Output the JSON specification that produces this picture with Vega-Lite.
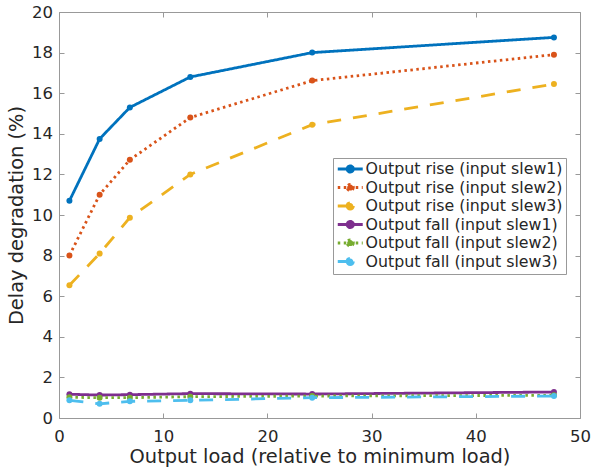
{
  "$schema": "https://vega.github.io/schema/vega-lite/v6.json",
  "width": 521,
  "height": 406,
  "autosize": {"type": "none"},
  "padding": {"left": 59, "top": 12, "right": 12, "bottom": 52},
  "background": "white",
  "config": {
    "font": "DejaVu Sans",
    "view": {"stroke": "#999999", "strokeWidth": 1},
    "axis": {
      "grid": false,
      "domain": false,
      "labelFlush": false,
      "tickColor": "#999999",
      "tickSize": -5,
      "labelColor": "#262626",
      "labelFontSize": 16.5,
      "labelFont": "DejaVu Sans",
      "titleFont": "DejaVu Sans",
      "titleFontSize": 19.4,
      "titleColor": "#262626",
      "titleFontWeight": "normal"
    }
  },
  "data": {
    "values": [
      {"load": 1, "deg": 10.7, "series": "Output rise (input slew1)"},
      {"load": 3.9, "deg": 13.75, "series": "Output rise (input slew1)"},
      {"load": 6.8, "deg": 15.3, "series": "Output rise (input slew1)"},
      {"load": 12.6, "deg": 16.8, "series": "Output rise (input slew1)"},
      {"load": 24.3, "deg": 18.0, "series": "Output rise (input slew1)"},
      {"load": 47.5, "deg": 18.75, "series": "Output rise (input slew1)"},
      {"load": 1, "deg": 8.0, "series": "Output rise (input slew2)"},
      {"load": 3.9, "deg": 11.0, "series": "Output rise (input slew2)"},
      {"load": 6.8, "deg": 12.72, "series": "Output rise (input slew2)"},
      {"load": 12.6, "deg": 14.8, "series": "Output rise (input slew2)"},
      {"load": 24.3, "deg": 16.62, "series": "Output rise (input slew2)"},
      {"load": 47.5, "deg": 17.9, "series": "Output rise (input slew2)"},
      {"load": 1, "deg": 6.54, "series": "Output rise (input slew3)"},
      {"load": 3.9, "deg": 8.1, "series": "Output rise (input slew3)"},
      {"load": 6.8, "deg": 9.87, "series": "Output rise (input slew3)"},
      {"load": 12.6, "deg": 12.0, "series": "Output rise (input slew3)"},
      {"load": 24.3, "deg": 14.45, "series": "Output rise (input slew3)"},
      {"load": 47.5, "deg": 16.45, "series": "Output rise (input slew3)"},
      {"load": 1, "deg": 1.17, "series": "Output fall (input slew1)"},
      {"load": 3.9, "deg": 1.13, "series": "Output fall (input slew1)"},
      {"load": 6.8, "deg": 1.15, "series": "Output fall (input slew1)"},
      {"load": 12.6, "deg": 1.2, "series": "Output fall (input slew1)"},
      {"load": 24.3, "deg": 1.18, "series": "Output fall (input slew1)"},
      {"load": 47.5, "deg": 1.28, "series": "Output fall (input slew1)"},
      {"load": 1, "deg": 1.02, "series": "Output fall (input slew2)"},
      {"load": 3.9, "deg": 1.0, "series": "Output fall (input slew2)"},
      {"load": 6.8, "deg": 1.0, "series": "Output fall (input slew2)"},
      {"load": 12.6, "deg": 1.05, "series": "Output fall (input slew2)"},
      {"load": 24.3, "deg": 1.08, "series": "Output fall (input slew2)"},
      {"load": 47.5, "deg": 1.12, "series": "Output fall (input slew2)"},
      {"load": 1, "deg": 0.87, "series": "Output fall (input slew3)"},
      {"load": 3.9, "deg": 0.7, "series": "Output fall (input slew3)"},
      {"load": 6.8, "deg": 0.82, "series": "Output fall (input slew3)"},
      {"load": 12.6, "deg": 0.87, "series": "Output fall (input slew3)"},
      {"load": 24.3, "deg": 1.0, "series": "Output fall (input slew3)"},
      {"load": 47.5, "deg": 1.08, "series": "Output fall (input slew3)"}
    ]
  },
  "layer": [
    {
      "mark": {"type": "line", "strokeWidth": 2.8},
      "encoding": {
        "x": {
          "field": "load", "type": "quantitative",
          "scale": {"domain": [0, 50], "nice": false, "zero": false, "padding": 0},
          "axis": {"values": [0, 10, 20, 30, 40, 50], "title": "Output load (relative to minimum load)", "labelPadding": 15, "titlePadding": 3}
        },
        "y": {
          "field": "deg", "type": "quantitative",
          "scale": {"domain": [0, 20], "nice": false, "zero": false, "padding": 0},
          "axis": {"values": [0, 2, 4, 6, 8, 10, 12, 14, 16, 18, 20], "title": "Delay degradation (%)", "labelPadding": 11.5, "titlePadding": 5}
        },
        "color": {
          "field": "series", "type": "nominal",
          "scale": {
            "domain": ["Output rise (input slew1)", "Output rise (input slew2)", "Output rise (input slew3)", "Output fall (input slew1)", "Output fall (input slew2)", "Output fall (input slew3)"],
            "range": ["#0072BD", "#D95319", "#EDB120", "#7E2F8E", "#77AC30", "#4DBEEE"]
          },
          "legend": {
            "title": null,
            "orient": "none",
            "legendX": 274,
            "legendY": 146,
            "fillColor": "white",
            "strokeColor": "#999999",
            "padding": 3,
            "labelFontSize": 15.8,
            "labelColor": "#262626",
            "labelLimit": 0,
            "labelOffset": 13.5,
            "symbolType": "M-1,0H3M1.5,0A0.5,0.5 0 1 1 0.5,0A0.5,0.5 0 1 1 1.5,0Z",
            "symbolSize": 156,
            "symbolStrokeWidth": 2.8,
            "rowPadding": 0.5
          }
        },
        "strokeDash": {
          "field": "series", "type": "nominal",
          "scale": {
            "domain": ["Output rise (input slew1)", "Output rise (input slew2)", "Output rise (input slew3)", "Output fall (input slew1)", "Output fall (input slew2)", "Output fall (input slew3)"],
            "range": [[1, 0], [2.5, 3.5], [14, 12], [1, 0], [2.5, 3.5], [14, 12]]
          },
          "legend": null
        }
      }
    },
    {
      "mark": {"type": "point", "filled": true, "size": 36, "opacity": 1},
      "encoding": {
        "x": {
          "field": "load", "type": "quantitative",
          "scale": {"domain": [0, 50], "nice": false, "zero": false, "padding": 0},
          "axis": {"orient": "top", "values": [0, 10, 20, 30, 40, 50], "labels": false, "title": null}
        },
        "y": {
          "field": "deg", "type": "quantitative",
          "scale": {"domain": [0, 20], "nice": false, "zero": false, "padding": 0},
          "axis": {"orient": "right", "values": [0, 2, 4, 6, 8, 10, 12, 14, 16, 18, 20], "labels": false, "title": null}
        },
        "color": {"field": "series", "type": "nominal", "legend": null}
      }
    }
  ],
  "resolve": {"axis": {"x": "independent", "y": "independent"}}
}
